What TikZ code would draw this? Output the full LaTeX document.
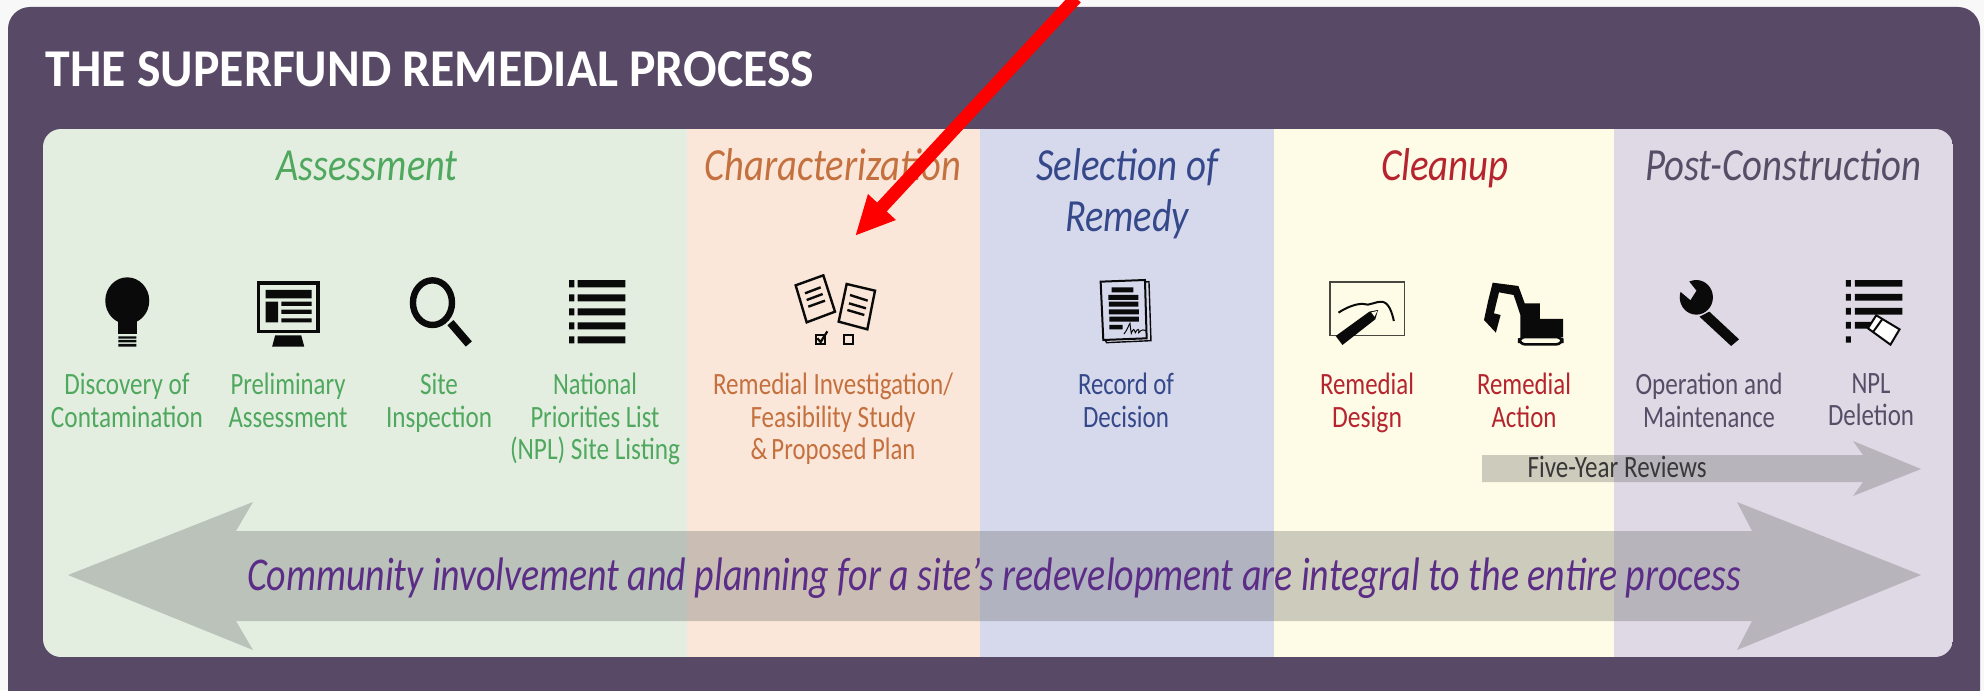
\documentclass[tikz,border=0pt]{standalone}
\usepackage{graphicx}
\usepackage{fontspec}
\setmainfont{Carlito}
\usetikzlibrary{arrows.meta}
\definecolor{pagebg}{HTML}{F8F8F8}
\definecolor{panel}{HTML}{584A66}
\definecolor{bandA}{HTML}{E3EEE1}
\definecolor{bandB}{HTML}{FBE7D9}
\definecolor{bandC}{HTML}{D6D8EC}
\definecolor{bandD}{HTML}{FEFCE6}
\definecolor{bandE}{HTML}{DED9E5}
\definecolor{txtA}{HTML}{4FA85E}
\definecolor{txtB}{HTML}{C4703F}
\definecolor{txtC}{HTML}{34488A}
\definecolor{txtD}{HTML}{B5242F}
\definecolor{txtE}{HTML}{574D66}
\definecolor{txtP}{HTML}{5B2D87}
\definecolor{icon}{HTML}{0A0A0A}
\newdimen\fitdim
\newcommand\fitw[2]{\fitdim=#1pt\fitdim=0.5\fitdim\resizebox{\fitdim}{\height}{#2}}
\newcommand\lnL[2]{\rule{0pt}{10pt}\fitw{#1}{#2}}
\newcommand\lnH[2]{\rule{0pt}{17pt}\fitw{#1}{#2}}
\tikzset{
  lbl/.style={anchor=north,align=center,inner sep=0pt,text=#1,font=\fontsize{15.5}{16.25}\selectfont},
  hdg/.style={anchor=base,inner sep=0pt,text=#1,font=\fontsize{23}{25.5}\selectfont\itshape},
  hdgtwo/.style={anchor=north,align=center,inner sep=0pt,text=#1,font=\fontsize{23}{25.5}\selectfont\itshape},
  ink/.style={fill=icon,draw=none},
  inkline/.style={draw=icon,fill=none},
  bigarrow/.style={fill=black!56,draw=none,opacity=.35},
  redarrow/.style={draw=red,line width=6.5pt,-{Triangle[length=19.8pt,width=17.5pt]}}
}
\begin{document}
\begin{tikzpicture}[x=0.5pt,y=-0.5pt]
\useasboundingbox (0,0) rectangle (1984,690);
\fill[pagebg] (0,0) rectangle (1984,690);
\fill[panel,rounded corners=11pt] (8,7) rectangle (1980,715);
% bands
\begin{scope}
\clip[rounded corners=9pt] (43,129) rectangle (1953,657);
\fill[bandA] (43,129) rectangle (687,657);
\fill[bandB] (687,129) rectangle (980,657);
\fill[bandC] (980,129) rectangle (1274,657);
\fill[bandD] (1274,129) rectangle (1614,657);
\fill[bandE] (1614,129) rectangle (1953,657);
\end{scope}
% grey arrows
\fill[bigarrow] (68,575) -- (253,502) -- (236,531) -- (1752,531) -- (1737,502) -- (1921,575) -- (1737,650) -- (1752,621) -- (236,621) -- (253,650) -- cycle;
\fill[bigarrow] (1482,455) -- (1863,455) -- (1853,441) -- (1921,469) -- (1853,496) -- (1863,482) -- (1482,482) -- cycle;
% title and headings
\node[anchor=base,inner sep=0pt,text=white,font=\fontsize{26.6}{30}\selectfont\bfseries] (title) at (430,87) {\fitw{768}{THE SUPERFUND REMEDIAL PROCESS}};
\node[hdg=txtA] (hA) at (367,180) {\fitw{181}{Assessment}};
\node[hdg=txtB] (hB) at (833,180) {\fitw{257}{Characterization}};
\node[hdgtwo=txtC] (hC) at (1127,146) {\lnH{182}{Selection of}\\\lnH{124}{Remedy}};
\node[hdg=txtD] (hD) at (1445,180) {\fitw{128}{Cleanup}};
\node[hdg=txtE] (hE) at (1783,180) {\fitw{276}{Post-Construction}};
% step labels
\node[lbl=txtA] (s1) at (127,373) {\lnL{125}{Discovery of}\\\lnL{152}{Contamination}};
\node[lbl=txtA] (s2) at (288,373) {\lnL{115}{Preliminary}\\\lnL{119}{Assessment}};
\node[lbl=txtA] (s3) at (439,373) {\lnL{38}{Site}\\\lnL{106}{Inspection}};
\node[lbl=txtA] (s4) at (595,373) {\lnL{84}{National}\\\lnL{129}{Priorities List}\\\lnL{170}{(NPL) Site Listing}};
\node[lbl=txtB] (s5) at (833,373) {\lnL{240}{Remedial Investigation/}\\\lnL{165}{Feasibility Study}\\\lnL{165}{\&\,Proposed Plan}};
\node[lbl=txtC] (s6) at (1126,373) {\lnL{96}{Record of}\\\lnL{86}{Decision}};
\node[lbl=txtD] (s7) at (1367,373) {\lnL{94}{Remedial}\\\lnL{70}{Design}};
\node[lbl=txtD] (s8) at (1524,373) {\lnL{94}{Remedial}\\\lnL{65}{Action}};
\node[lbl=txtE] (s9) at (1709,373) {\lnL{147}{Operation and}\\\lnL{132}{Maintenance}};
\node[lbl=txtE] (s10) at (1871,373) {\lnL{39}{NPL}\\\lnL{86}{Deletion}};
\node[anchor=base,inner sep=0pt,text=black!78,font=\fontsize{15.5}{16}\selectfont] (five) at (1617,477) {\fitw{179}{Five-Year Reviews}};
\node[anchor=base,inner sep=0pt,text=txtP,font=\fontsize{23.5}{25}\selectfont\itshape] (community) at (994,590) {\fitw{1494}{Community involvement and planning for a site’s redevelopment are integral to the entire process}};
% icons: first row, coordinates as read from a crop at (80,260)
\begin{scope}[shift={(80,260)},xscale=0.3827,yscale=0.3333]
\fill[ink] (123.5,122) ellipse (57.5 and 70);
\fill[ink] (98,170) rectangle (150,222);
\fill[ink] (100,229) rectangle (147,236) (100,240) rectangle (147,247) (100,252) rectangle (147,260);
% monitor
\draw[inkline,line width=1.6pt] (466,69) rectangle (622,215);
\fill[ink] (485,90) rectangle (605,115) (485,125) rectangle (518,187) (526,125) rectangle (605,138) (526,149) rectangle (605,162) (526,175) rectangle (605,187);
\fill[ink] (510,226) -- (578,226) -- (586,260) -- (502,260) -- cycle;
% magnifier
\draw[inkline,line width=3.2pt] (921,128) ellipse (51 and 67);
\draw[inkline,line width=4pt] (968,188) -- (1016,252);
% list
\fill[ink] (1278,60) rectangle (1292,82) (1300,60) rectangle (1425,82)
 (1278,103) rectangle (1292,124) (1300,103) rectangle (1425,124)
 (1278,145) rectangle (1292,166) (1300,145) rectangle (1425,166)
 (1278,187) rectangle (1292,208) (1300,187) rectangle (1425,208)
 (1278,229) rectangle (1292,250) (1300,229) rectangle (1425,250);
\end{scope}
% papers and record of decision
\begin{scope}[shift={(770,260)},xscale=0.3333,yscale=0.3333]
\draw[inkline,line width=1.2pt,line join=miter] (77,76) -- (160,46) -- (195,155) -- (110,187) -- cycle;
\draw[inkline,line width=1.2pt] (105,100) -- (152,82) (110,120) -- (158,102) (115,140) -- (165,122);
\draw[inkline,line width=1.2pt] (230,72) -- (315,92) -- (292,208) -- (206,185) -- cycle;
\draw[inkline,line width=1.2pt] (240,105) -- (293,122) (237,130) -- (288,145) (232,150) -- (283,165);
\draw[inkline,line width=1pt] (137,224) rectangle (166,251);
\draw[inkline,line width=1.1pt] (142,235) -- (152,246) -- (172,214);
\draw[inkline,line width=1pt] (223,224) rectangle (250,251);
% record
\draw[inkline,line width=.7pt] (1125,66) -- (1137,65) -- (1143,242) -- (1010,248) -- (1005,240);
\draw[inkline,line width=1pt] (992,65) -- (1125,60) -- (1130,235) -- (1000,240) -- cycle;
\fill[ink] (1025,82) rectangle (1090,97) (1015,105) rectangle (1105,120) (1017,125) rectangle (1105,140) (1017,148) rectangle (1107,163) (1018,170) rectangle (1107,185) (1018,195) rectangle (1058,208);
\draw[inkline,line width=.5pt] (1062,222) .. controls (1072,210) and (1076,195) .. (1080,190) .. controls (1082,205) and (1082,212) .. (1084,220) .. controls (1090,205) and (1092,205) .. (1096,218) .. controls (1102,205) and (1110,205) .. (1106,218) .. controls (1115,208) and (1122,208) .. (1130,212);
\end{scope}
% cleanup and post-construction icons
\begin{scope}[shift={(1310,260)},xscale=0.3954,yscale=0.3333]
\draw[draw=black!72!bandD,line width=.8pt] (51,66) rectangle (239,226);
\draw[inkline,line width=1pt] (72,158) .. controls (95,140) and (120,130) .. (135,132) .. controls (150,140) and (165,122) .. (185,126) .. controls (200,130) and (208,160) .. (212,183);
\fill[ink] (150,155) -- (172,150) -- (165,178) -- (82,255) -- (65,228) -- cycle;
\fill[bandD] (155,157) -- (170,153) -- (163,170) -- cycle;
% excavator
\fill[ink] (462,68) -- (527,78) -- (543,130) -- (581,130) -- (581,177) -- (640,177) -- (640,232) -- (532,232) -- (532,165) -- (515,105) -- (478,97) -- (465,160) -- (482,165) -- (470,218) -- (440,180) -- (450,125) -- cycle;
\draw[draw=icon,fill=bandD,line width=1.3pt,rounded corners=3pt] (529,231) rectangle (638,253);
% wrench
\fill[ink] (1010,155) -- (1085,238) -- (1065,258) -- (985,170) -- cycle;
\fill[ink] (977,112) ellipse (42 and 52);
\fill[bandE] (930,88) -- (962,120) -- (977,92) -- (953,56) -- cycle;
% NPL deletion
\fill[ink] (1355,60) rectangle (1368,80) (1378,60) rectangle (1498,80)
 (1355,102) rectangle (1368,122) (1378,102) rectangle (1498,122)
 (1355,144) rectangle (1368,164) (1378,144) rectangle (1498,164)
 (1355,186) rectangle (1368,206) (1378,186) rectangle (1425,206)
 (1355,229) rectangle (1368,248);
\draw[draw=icon,fill=white,line width=1pt,line join=miter] (1432,166) -- (1491,208) -- (1468,254) -- (1411,205) -- cycle;
\draw[draw=icon,line width=1pt] (1447,178) -- (1424,216);
\end{scope}
% red pointer
\coordinate (redfrom) at (1076,-2);
\coordinate (redto) at (855,236);
\draw[redarrow] (redfrom) -- (redto);
\end{tikzpicture}
\end{document}
